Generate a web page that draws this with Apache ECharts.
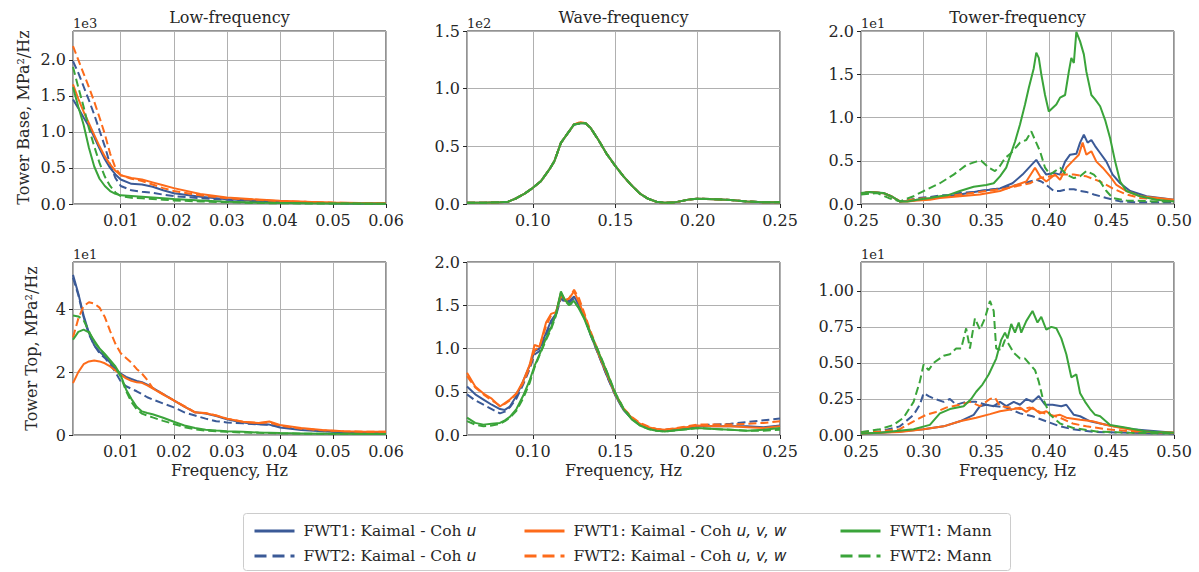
<!DOCTYPE html>
<html>
<head>
<meta charset="utf-8">
<script src="https://cdn.jsdelivr.net/npm/echarts/dist/echarts.min.js"></script>
<style>
  html, body { margin: 0; padding: 0; background: #fff; }
  #chart { width: 1199px; height: 572px; }
</style>
</head>
<body>
<div id="chart"></div>
<script>
// series meta
const seriesNames = ['FWT1: Kaimal - Coh u', 'FWT2: Kaimal - Coh u', 'FWT1: Kaimal - Coh u, v, w',
                     'FWT2: Kaimal - Coh u, v, w', 'FWT1: Mann', 'FWT2: Mann'];
const seriesColors = ['#3b5a97', '#3b5a97', '#fd6b1a', '#fd6b1a', '#3aa43a', '#3aa43a'];
const seriesDashed = [false, true, false, true, false, true];

// ---- Tower Base, low-frequency (x1e3) ----
const baseLowFreq = [0.001,0.002,0.003,0.004,0.005,0.006,0.007,0.008,0.009,0.010,0.012,0.014,0.016,0.018,0.020,0.025,0.030,0.035,0.040,0.045,0.050,0.055,0.060];
const baseLowKaimalU1   = [1.45,1.33,1.20,1.08,0.93,0.77,0.62,0.50,0.41,0.34,0.28,0.27,0.24,0.19,0.15,0.10,0.065,0.045,0.03,0.02,0.012,0.008,0.006];
const baseLowKaimalU2   = [1.98,1.82,1.63,1.44,1.24,1.02,0.80,0.55,0.36,0.25,0.19,0.17,0.155,0.13,0.11,0.08,0.06,0.04,0.03,0.02,0.012,0.008,0.006];
const baseLowKaimalUVW1 = [1.66,1.46,1.28,1.12,0.96,0.80,0.66,0.55,0.46,0.40,0.36,0.34,0.30,0.26,0.22,0.14,0.09,0.065,0.045,0.03,0.02,0.014,0.01];
const baseLowKaimalUVW2 = [2.19,2.00,1.81,1.62,1.42,1.20,0.97,0.70,0.50,0.40,0.35,0.32,0.27,0.22,0.18,0.12,0.08,0.06,0.04,0.03,0.018,0.012,0.01];
const baseLowMann1      = [1.62,1.35,1.10,0.78,0.52,0.35,0.25,0.18,0.14,0.12,0.11,0.10,0.09,0.08,0.07,0.05,0.03,0.02,0.015,0.01,0.008,0.006,0.005];
const baseLowMann2      = [1.90,1.62,1.35,1.05,0.80,0.57,0.38,0.25,0.16,0.11,0.085,0.08,0.07,0.06,0.05,0.035,0.025,0.015,0.01,0.008,0.006,0.005,0.004];

// ---- Tower Base, wave-frequency (x1e2) ----
const baseWaveFreq = [0.06,0.07,0.08,0.085,0.09,0.095,0.10,0.105,0.11,0.113,0.117,0.12,0.125,0.129,0.132,0.135,0.14,0.145,0.15,0.155,0.16,0.165,0.17,0.175,0.18,0.185,0.19,0.195,0.20,0.21,0.22,0.23,0.24,0.25];
const baseWaveKaimalU1   = [0.01,0.01,0.015,0.02,0.05,0.09,0.14,0.20,0.30,0.37,0.53,0.59,0.69,0.70,0.70,0.66,0.55,0.43,0.33,0.24,0.16,0.09,0.045,0.02,0.01,0.012,0.025,0.04,0.046,0.042,0.035,0.022,0.015,0.015];
const baseWaveKaimalU2   = [0.01,0.01,0.015,0.02,0.05,0.09,0.14,0.20,0.30,0.37,0.53,0.59,0.69,0.70,0.70,0.66,0.55,0.43,0.33,0.24,0.16,0.09,0.045,0.02,0.01,0.012,0.025,0.04,0.046,0.042,0.035,0.022,0.015,0.015];
const baseWaveKaimalUVW1 = [0.01,0.01,0.015,0.02,0.05,0.09,0.14,0.20,0.30,0.37,0.53,0.59,0.69,0.71,0.70,0.66,0.55,0.43,0.33,0.24,0.16,0.09,0.045,0.02,0.01,0.012,0.025,0.04,0.046,0.042,0.035,0.022,0.015,0.015];
const baseWaveKaimalUVW2 = [0.01,0.01,0.015,0.02,0.05,0.09,0.14,0.20,0.30,0.37,0.53,0.59,0.69,0.71,0.70,0.66,0.55,0.43,0.33,0.24,0.16,0.09,0.045,0.02,0.01,0.012,0.025,0.04,0.046,0.042,0.035,0.022,0.015,0.015];
const baseWaveMann1      = [0.01,0.01,0.015,0.02,0.05,0.09,0.14,0.20,0.30,0.37,0.53,0.59,0.69,0.70,0.70,0.66,0.55,0.43,0.33,0.24,0.16,0.09,0.045,0.02,0.01,0.012,0.025,0.04,0.046,0.042,0.035,0.022,0.015,0.015];
const baseWaveMann2      = [0.01,0.01,0.015,0.02,0.05,0.09,0.14,0.20,0.30,0.37,0.53,0.59,0.69,0.70,0.70,0.66,0.55,0.43,0.33,0.24,0.16,0.09,0.045,0.02,0.01,0.012,0.025,0.04,0.046,0.042,0.035,0.022,0.015,0.015];

// ---- Tower Base, tower-frequency (x1e1), [freq, psd] ----
const baseTowerKaimalU1 = [[0.25,0.12],[0.257,0.14],[0.268,0.125],[0.274,0.09],[0.281,0.03],[0.287,0.035],[0.295,0.05],[0.305,0.06],[0.313,0.08],[0.329,0.11],[0.345,0.15],[0.361,0.18],[0.371,0.24],[0.379,0.34],[0.386,0.45],[0.39,0.51],[0.394,0.42],[0.398,0.34],[0.404,0.36],[0.409,0.34],[0.413,0.49],[0.417,0.57],[0.422,0.58],[0.425,0.71],[0.428,0.80],[0.431,0.71],[0.434,0.74],[0.437,0.67],[0.441,0.59],[0.446,0.49],[0.451,0.34],[0.457,0.24],[0.465,0.15],[0.478,0.09],[0.5,0.05]];
const baseTowerKaimalU2 = [[0.25,0.12],[0.257,0.14],[0.268,0.125],[0.274,0.09],[0.281,0.03],[0.287,0.04],[0.295,0.07],[0.305,0.08],[0.313,0.1],[0.322,0.1],[0.329,0.13],[0.34,0.14],[0.35,0.16],[0.361,0.18],[0.372,0.21],[0.38,0.24],[0.385,0.26],[0.39,0.28],[0.394,0.26],[0.398,0.22],[0.404,0.15],[0.409,0.15],[0.414,0.17],[0.42,0.17],[0.425,0.15],[0.43,0.14],[0.436,0.11],[0.446,0.07],[0.457,0.03],[0.47,0.02],[0.5,0.02]];
const baseTowerKaimalUVW1 = [[0.25,0.12],[0.257,0.14],[0.268,0.125],[0.274,0.09],[0.281,0.03],[0.287,0.03],[0.295,0.04],[0.305,0.05],[0.313,0.07],[0.329,0.09],[0.345,0.11],[0.361,0.15],[0.374,0.22],[0.382,0.26],[0.389,0.42],[0.393,0.32],[0.398,0.26],[0.405,0.34],[0.409,0.28],[0.414,0.42],[0.42,0.51],[0.424,0.57],[0.427,0.71],[0.43,0.57],[0.434,0.61],[0.438,0.49],[0.443,0.42],[0.449,0.32],[0.454,0.22],[0.462,0.15],[0.473,0.09],[0.5,0.05]];
const baseTowerKaimalUVW2 = [[0.25,0.12],[0.257,0.14],[0.268,0.125],[0.274,0.09],[0.281,0.03],[0.287,0.04],[0.295,0.06],[0.305,0.07],[0.313,0.08],[0.34,0.13],[0.366,0.18],[0.385,0.24],[0.393,0.3],[0.401,0.32],[0.409,0.34],[0.42,0.34],[0.43,0.32],[0.441,0.26],[0.451,0.18],[0.462,0.11],[0.473,0.07],[0.5,0.04]];
const baseTowerMann1 = [[0.25,0.127],[0.257,0.14],[0.268,0.127],[0.274,0.09],[0.281,0.03],[0.287,0.03],[0.295,0.05],[0.305,0.07],[0.313,0.09],[0.319,0.1],[0.329,0.15],[0.34,0.2],[0.35,0.22],[0.356,0.24],[0.361,0.32],[0.366,0.42],[0.369,0.55],[0.373,0.72],[0.377,0.92],[0.381,1.15],[0.384,1.34],[0.388,1.57],[0.39,1.75],[0.392,1.69],[0.394,1.5],[0.397,1.26],[0.4,1.07],[0.403,1.11],[0.406,1.15],[0.409,1.23],[0.413,1.26],[0.416,1.53],[0.418,1.69],[0.42,1.63],[0.422,1.99],[0.425,1.88],[0.428,1.73],[0.43,1.53],[0.434,1.26],[0.437,1.21],[0.441,1.13],[0.445,0.97],[0.449,0.76],[0.453,0.49],[0.457,0.26],[0.462,0.15],[0.473,0.09],[0.486,0.05],[0.5,0.03]];
const baseTowerMann2 = [[0.25,0.11],[0.263,0.127],[0.272,0.07],[0.281,0.03],[0.292,0.09],[0.3,0.15],[0.313,0.24],[0.324,0.34],[0.334,0.45],[0.342,0.49],[0.346,0.5],[0.352,0.42],[0.357,0.38],[0.361,0.44],[0.365,0.53],[0.37,0.59],[0.377,0.71],[0.382,0.74],[0.386,0.84],[0.389,0.74],[0.393,0.61],[0.397,0.42],[0.401,0.34],[0.405,0.38],[0.409,0.42],[0.414,0.34],[0.42,0.3],[0.425,0.32],[0.43,0.38],[0.436,0.34],[0.441,0.26],[0.446,0.15],[0.451,0.07],[0.462,0.04],[0.486,0.03],[0.5,0.03]];

// ---- Tower Top, low-frequency (x1e1) ----
const topLowFreq = [0.001,0.002,0.003,0.004,0.005,0.006,0.007,0.008,0.009,0.010,0.011,0.012,0.013,0.014,0.015,0.016,0.018,0.020,0.022,0.024,0.026,0.028,0.030,0.033,0.036,0.038,0.040,0.044,0.048,0.052,0.056,0.060];
const topLowKaimalU1   = [5.09,4.5,3.8,3.25,2.85,2.65,2.5,2.3,2.1,1.95,1.85,1.78,1.72,1.68,1.6,1.5,1.3,1.1,0.9,0.72,0.68,0.6,0.5,0.4,0.34,0.33,0.24,0.16,0.12,0.09,0.07,0.06];
const topLowKaimalU2   = [5.0,4.45,3.75,3.2,2.85,2.6,2.45,2.25,2.0,1.7,1.55,1.47,1.39,1.3,1.2,1.13,1.0,0.88,0.72,0.62,0.52,0.44,0.4,0.37,0.34,0.32,0.28,0.2,0.13,0.09,0.07,0.06];
const topLowKaimalUVW1 = [1.65,2.0,2.25,2.34,2.37,2.34,2.28,2.18,2.05,1.92,1.8,1.72,1.68,1.66,1.58,1.48,1.28,1.1,0.9,0.72,0.69,0.62,0.52,0.42,0.38,0.43,0.32,0.22,0.16,0.12,0.1,0.1];
const topLowKaimalUVW2 = [3.1,3.7,4.1,4.22,4.18,4.05,3.75,3.3,2.9,2.6,2.45,2.3,2.1,1.95,1.75,1.5,1.3,1.1,0.92,0.72,0.7,0.62,0.52,0.42,0.38,0.4,0.3,0.2,0.15,0.12,0.1,0.1];
const topLowMann1      = [3.03,3.28,3.35,3.26,3.0,2.75,2.58,2.38,2.18,1.9,1.45,1.15,0.9,0.75,0.7,0.66,0.55,0.42,0.3,0.22,0.17,0.14,0.12,0.1,0.08,0.07,0.06,0.05,0.04,0.04,0.03,0.03];
const topLowMann2      = [3.8,3.77,3.65,3.3,2.95,2.75,2.55,2.35,2.15,1.85,1.4,1.05,0.82,0.68,0.62,0.56,0.45,0.35,0.25,0.18,0.14,0.12,0.1,0.08,0.07,0.06,0.05,0.04,0.04,0.03,0.03,0.03];

// ---- Tower Top, wave-frequency ----
const topWaveFreq = [0.06,0.065,0.07,0.075,0.08,0.083,0.086,0.09,0.094,0.098,0.101,0.104,0.108,0.111,0.114,0.117,0.1195,0.122,0.125,0.128,0.131,0.135,0.14,0.145,0.15,0.155,0.16,0.165,0.17,0.175,0.18,0.19,0.20,0.21,0.22,0.23,0.24,0.25];
const topWaveKaimalU1   = [0.56,0.47,0.41,0.35,0.30,0.29,0.33,0.45,0.62,0.80,0.97,1.00,1.18,1.32,1.40,1.62,1.55,1.55,1.60,1.50,1.38,1.16,0.92,0.68,0.46,0.29,0.19,0.12,0.08,0.06,0.05,0.07,0.10,0.10,0.10,0.10,0.09,0.11];
const topWaveKaimalU2   = [0.47,0.40,0.35,0.30,0.25,0.27,0.32,0.42,0.58,0.76,0.93,0.97,1.15,1.28,1.38,1.58,1.53,1.53,1.58,1.52,1.38,1.16,0.92,0.68,0.46,0.29,0.19,0.12,0.08,0.06,0.06,0.08,0.11,0.12,0.13,0.15,0.17,0.19];
const topWaveKaimalUVW1 = [0.72,0.56,0.48,0.42,0.33,0.37,0.41,0.48,0.62,0.81,1.04,1.02,1.30,1.40,1.42,1.64,1.56,1.58,1.66,1.53,1.40,1.18,0.93,0.70,0.47,0.30,0.20,0.13,0.09,0.07,0.06,0.08,0.11,0.10,0.10,0.09,0.08,0.10];
const topWaveKaimalUVW2 = [0.68,0.55,0.47,0.40,0.34,0.36,0.40,0.48,0.60,0.78,0.98,1.02,1.26,1.38,1.42,1.60,1.55,1.58,1.68,1.58,1.42,1.20,0.95,0.72,0.48,0.31,0.21,0.14,0.10,0.07,0.06,0.09,0.12,0.12,0.12,0.13,0.14,0.16];
const topWaveMann1      = [0.20,0.14,0.12,0.13,0.14,0.17,0.21,0.30,0.45,0.63,0.80,0.93,1.12,1.24,1.40,1.66,1.56,1.51,1.55,1.46,1.35,1.16,0.95,0.72,0.48,0.30,0.18,0.11,0.07,0.05,0.04,0.06,0.08,0.07,0.06,0.05,0.06,0.08];
const topWaveMann2      = [0.16,0.12,0.10,0.11,0.13,0.16,0.20,0.28,0.42,0.60,0.78,0.92,1.10,1.22,1.38,1.64,1.55,1.50,1.54,1.47,1.36,1.18,0.96,0.73,0.49,0.31,0.19,0.11,0.07,0.05,0.04,0.06,0.08,0.07,0.06,0.05,0.05,0.06];

// ---- Tower Top, tower-frequency (x1e1), [freq, psd] ----
const topTowerKaimalU1 = [[0.25,0.01],[0.265,0.015],[0.281,0.025],[0.3,0.04],[0.316,0.06],[0.329,0.095],[0.34,0.14],[0.345,0.2],[0.35,0.21],[0.356,0.2],[0.361,0.23],[0.366,0.2],[0.372,0.23],[0.377,0.21],[0.382,0.25],[0.387,0.23],[0.392,0.27],[0.397,0.21],[0.403,0.21],[0.41,0.2],[0.414,0.21],[0.42,0.14],[0.425,0.13],[0.433,0.095],[0.441,0.08],[0.452,0.06],[0.467,0.04],[0.5,0.015]];
const topTowerKaimalU2 = [[0.25,0.02],[0.265,0.025],[0.281,0.06],[0.292,0.14],[0.297,0.21],[0.3,0.29],[0.304,0.27],[0.309,0.25],[0.316,0.23],[0.321,0.25],[0.326,0.21],[0.334,0.23],[0.342,0.23],[0.35,0.21],[0.358,0.2],[0.366,0.19],[0.377,0.15],[0.387,0.13],[0.398,0.095],[0.409,0.06],[0.419,0.04],[0.438,0.02],[0.5,0.01]];
const topTowerKaimalUVW1 = [[0.25,0.01],[0.265,0.015],[0.281,0.02],[0.3,0.04],[0.316,0.06],[0.329,0.095],[0.342,0.12],[0.353,0.145],[0.361,0.165],[0.372,0.18],[0.377,0.19],[0.382,0.16],[0.387,0.19],[0.393,0.15],[0.398,0.165],[0.403,0.13],[0.409,0.14],[0.414,0.12],[0.425,0.105],[0.435,0.095],[0.446,0.07],[0.457,0.05],[0.473,0.025],[0.5,0.015]];
const topTowerKaimalUVW2 = [[0.25,0.02],[0.265,0.025],[0.281,0.04],[0.292,0.095],[0.302,0.14],[0.31,0.16],[0.318,0.19],[0.329,0.21],[0.337,0.23],[0.345,0.2],[0.353,0.25],[0.357,0.26],[0.361,0.2],[0.369,0.19],[0.377,0.18],[0.385,0.19],[0.393,0.16],[0.401,0.14],[0.409,0.12],[0.419,0.08],[0.43,0.06],[0.446,0.04],[0.467,0.025],[0.5,0.015]];
const topTowerMann1 = [[0.25,0.01],[0.265,0.015],[0.292,0.04],[0.305,0.07],[0.313,0.15],[0.321,0.18],[0.332,0.2],[0.338,0.25],[0.342,0.3],[0.347,0.35],[0.352,0.42],[0.358,0.53],[0.362,0.66],[0.365,0.71],[0.367,0.67],[0.37,0.77],[0.373,0.71],[0.376,0.78],[0.378,0.71],[0.382,0.79],[0.387,0.86],[0.391,0.78],[0.394,0.82],[0.398,0.73],[0.402,0.75],[0.406,0.74],[0.41,0.67],[0.414,0.56],[0.418,0.4],[0.422,0.42],[0.425,0.29],[0.429,0.23],[0.433,0.18],[0.437,0.14],[0.441,0.13],[0.449,0.07],[0.462,0.05],[0.478,0.025],[0.5,0.015]];
const topTowerMann2 = [[0.25,0.02],[0.265,0.04],[0.276,0.07],[0.284,0.12],[0.292,0.23],[0.297,0.37],[0.3,0.49],[0.304,0.45],[0.308,0.5],[0.316,0.55],[0.321,0.56],[0.326,0.6],[0.33,0.6],[0.334,0.74],[0.337,0.6],[0.341,0.81],[0.345,0.73],[0.349,0.81],[0.353,0.93],[0.356,0.86],[0.358,0.6],[0.362,0.59],[0.365,0.66],[0.368,0.63],[0.372,0.57],[0.377,0.53],[0.381,0.53],[0.385,0.49],[0.389,0.45],[0.392,0.37],[0.395,0.26],[0.401,0.14],[0.409,0.08],[0.419,0.05],[0.438,0.025],[0.465,0.015],[0.5,0.01]];

const zip = (xs, ys) => xs.map((x, i) => [x, ys[i]]);

const panelData = [
  [baseLowKaimalU1, baseLowKaimalU2, baseLowKaimalUVW1, baseLowKaimalUVW2, baseLowMann1, baseLowMann2].map(y => zip(baseLowFreq, y)),
  [baseWaveKaimalU1, baseWaveKaimalU2, baseWaveKaimalUVW1, baseWaveKaimalUVW2, baseWaveMann1, baseWaveMann2].map(y => zip(baseWaveFreq, y)),
  [baseTowerKaimalU1, baseTowerKaimalU2, baseTowerKaimalUVW1, baseTowerKaimalUVW2, baseTowerMann1, baseTowerMann2],
  [topLowKaimalU1, topLowKaimalU2, topLowKaimalUVW1, topLowKaimalUVW2, topLowMann1, topLowMann2].map(y => zip(topLowFreq, y)),
  [topWaveKaimalU1, topWaveKaimalU2, topWaveKaimalUVW1, topWaveKaimalUVW2, topWaveMann1, topWaveMann2].map(y => zip(topWaveFreq, y)),
  [topTowerKaimalU1, topTowerKaimalU2, topTowerKaimalUVW1, topTowerKaimalUVW2, topTowerMann1, topTowerMann2]
];

// axis settings per panel
const yMax = [2.4, 1.5, 2.0, 5.5, 2.0, 1.2];
const yStep = [0.5, 0.5, 0.5, 2, 0.5, 0.25];
const yDecimals = [1, 1, 1, 0, 1, 2];
const yScaleText = ['1e3', '1e2', '1e1', '1e1', '', '1e1'];
const columnTitles = ['Low-frequency', 'Wave-frequency', 'Tower-frequency'];

const FONT = 'DejaVu Serif';
const TXT = '#262626';
const gridLefts = [73, 467, 861];
const gridTops = [31, 262];
const GW = 313, GH = 173;

const grids = [], xAxes = [], yAxes = [], series = [], graphics = [];

for (let p = 0; p < 6; p++) {
  const col = p % 3, row = Math.floor(p / 3);
  grids.push({
    left: gridLefts[col], top: gridTops[row], width: GW, height: GH,
    show: true, borderColor: '#262626', borderWidth: 1, backgroundColor: 'transparent'
  });

  const xa = {
    type: 'value', gridIndex: p,
    axisLine: {show: false},
    axisTick: {show: true, length: 4, lineStyle: {color: '#262626'}},
    splitLine: {show: true, lineStyle: {color: '#b0b0b0', width: 1}},
    axisLabel: {fontFamily: FONT, fontSize: 16, color: TXT, margin: 8,
                formatter: v => v.toFixed(2), showMinLabel: col === 2},
  };
  if (col === 0) Object.assign(xa, {min: 0.001, max: 0.06, splitNumber: 5});
  if (col === 1) Object.assign(xa, {min: 0.06, max: 0.25, splitNumber: 4});
  if (col === 2) Object.assign(xa, {min: 0.25, max: 0.5, interval: 0.05});
  if (row === 1) Object.assign(xa, {
    name: 'Frequency, Hz', nameLocation: 'middle', nameGap: 27,
    nameTextStyle: {fontFamily: FONT, fontSize: 16, color: TXT}
  });
  xAxes.push(xa);

  const ya = {
    type: 'value', gridIndex: p, min: 0, max: yMax[p], interval: yStep[p],
    axisLine: {show: false},
    axisTick: {show: true, length: 4, lineStyle: {color: '#262626'}},
    splitLine: {show: true, lineStyle: {color: '#b0b0b0', width: 1}},
    axisLabel: {fontFamily: FONT, fontSize: 16, color: TXT, margin: 7,
                formatter: v => v.toFixed(yDecimals[p]),
                showMaxLabel: Math.abs(yMax[p] / yStep[p] - Math.round(yMax[p] / yStep[p])) < 1e-6},
  };
  if (col === 0) Object.assign(ya, {
    name: row === 0 ? 'Tower Base, MPa\u00b2/Hz' : 'Tower Top, MPa\u00b2/Hz',
    nameLocation: 'middle', nameGap: row === 0 ? 42 : 34,
    nameTextStyle: {fontFamily: FONT, fontSize: 16, color: TXT}
  });
  yAxes.push(ya);

  panelData[p].forEach((d, k) => {
    series.push({
      name: seriesNames[k], type: 'line', xAxisIndex: p, yAxisIndex: p,
      data: d, showSymbol: false, symbol: 'none', smooth: false,
      lineStyle: {color: seriesColors[k], width: 2, type: seriesDashed[k] ? [8, 4] : 'solid'},
      itemStyle: {color: seriesColors[k]},
      emphasis: {disabled: true}
    });
  });

  if (yScaleText[p]) {
    graphics.push({type: 'text', left: gridLefts[col], top: gridTops[row] - 14,
      style: {text: yScaleText[p], fontFamily: FONT, fontSize: 13, fill: TXT}});
  }
}

columnTitles.forEach((t, c) => {
  graphics.push({type: 'text', x: gridLefts[c] + GW / 2, y: 17,
    style: {text: t, fontFamily: FONT, fontSize: 16, fill: TXT, align: 'center', verticalAlign: 'middle'}});
});

// legend frame
graphics.push({type: 'rect', shape: {x: 243.5, y: 513.5, width: 767, height: 57, r: 3},
  style: {fill: '#fff', stroke: '#cccccc', lineWidth: 1}, z: -1});

function legendCol(left, idx) {
  return {
    left: left, top: 518, orient: 'vertical', itemGap: 9, itemWidth: 40, itemHeight: 16,
    data: idx.map(k => ({
      name: seriesNames[k],
      itemStyle: {opacity: 0},
      lineStyle: {width: 3, type: seriesDashed[k] ? [12, 6] : 'solid'}
    })),
    selectedMode: false,
    textStyle: {fontFamily: FONT, fontSize: 15.5, color: TXT, padding: [0, 0, 0, 4],
      rich: {i: {fontFamily: 'DejaVu Sans', fontStyle: 'italic', fontSize: 15.5, color: TXT}}},
    formatter: name => name.replace(/Coh (.*)$/, 'Coh {i|$1}')
  };
}

const chart = echarts.init(document.getElementById('chart'), null, {renderer: 'svg'});
chart.setOption({
  animation: false,
  backgroundColor: '#fff',
  grid: grids,
  xAxis: xAxes,
  yAxis: yAxes,
  series: series,
  legend: [legendCol(248, [0, 1]), legendCol(518, [2, 3]), legendCol(834, [4, 5])],
  graphic: graphics
});
</script>
</body>
</html>
